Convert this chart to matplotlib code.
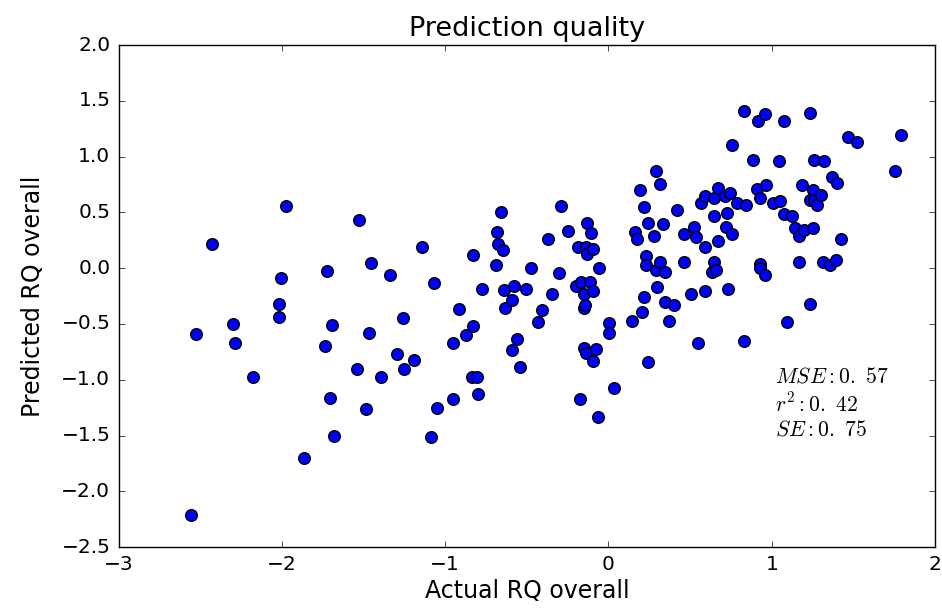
import matplotlib
matplotlib.use('Agg')
import matplotlib.pyplot as plt

actual = [-2.555, -2.524, -2.427, -2.298, -2.288, -2.18, -2.016, -2.016, -2.008, -1.975,
          -1.867, -1.736, -1.726, -1.703, -1.693, -1.683, -1.542, -1.53, -1.487, -1.469,
          -1.456, -1.391, -1.338, -1.295, -1.26, -1.25, -1.193, -1.144, -1.09, -1.068,
          -1.05, -0.951, -0.95, -0.916, -0.873, -0.83, -0.831, -0.833, -0.805, -0.797,
          -0.774, -0.69, -0.68, -0.678, -0.66, -0.645, -0.639, -0.635, -0.594, -0.592,
          -0.576, -0.56, -0.539, -0.507, -0.476, -0.433, -0.409, -0.368, -0.345, -0.302,
          -0.292, -0.251, -0.196, -0.186, -0.172, -0.17, -0.151, -0.151, -0.145, -0.149,
          -0.139, -0.135, -0.131, -0.129, -0.116, -0.108, -0.094, -0.094, -0.094, -0.078,
          -0.063, -0.06, 0.002, 0.002, 0.032,
          0.141, 0.163, 0.172, 0.192, 0.206, 0.216, 0.219, 0.227, 0.227, 0.239,
          0.239, 0.28, 0.288, 0.29, 0.298, 0.314, 0.314, 0.333, 0.345, 0.349,
          0.368, 0.4, 0.419, 0.461, 0.464, 0.507, 0.521, 0.539, 0.547, 0.568,
          0.592, 0.594, 0.594, 0.631, 0.645, 0.648, 0.648, 0.656, 0.668, 0.67,
          0.711, 0.721, 0.727, 0.731, 0.746, 0.756, 0.758, 0.786, 0.829, 0.829,
          0.841, 0.884, 0.911, 0.917, 0.927, 0.931, 0.931, 0.96, 0.958, 0.966,
          1.007, 1.046, 1.048, 1.078, 1.078, 1.091, 1.126, 1.14, 1.166, 1.166,
          1.183, 1.195, 1.232, 1.232, 1.233, 1.252, 1.252, 1.258, 1.26, 1.275,
          1.299, 1.315, 1.317, 1.356, 1.366, 1.395, 1.397, 1.422, 1.466, 1.521,
          1.757, 1.791]

predicted = [-2.21, -0.594, 0.218, -0.496, -0.669, -0.974, -0.32, -0.436, -0.087, 0.556,
             -1.70, -0.696, -0.027, -1.162, -0.508, -1.5, -0.902, 0.436, -1.263, -0.58,
             0.045, -0.974, -0.057, -0.768, -0.448, -0.902, -0.827, 0.188, -1.51, -0.131,
             -1.25, -1.177, -0.669, -0.362, -0.597, -0.52, 0.116, -0.974, -0.974, -1.13,
             -0.188, 0.03, 0.32, 0.221, 0.508, 0.161, -0.2, -0.361, -0.729, -0.287,
             -0.161, -0.639, -0.884, -0.188, 0.0, -0.481, -0.376, 0.26, -0.233, -0.042,
             0.556, 0.334, -0.161, 0.191, -1.177, -0.123, -0.714, -0.361, -0.332, -0.233,
             0.191, -0.764, 0.131, 0.409, -0.123, 0.311, 0.176, -0.203, -0.833, -0.723,
             -1.338, 0.0, -0.49, -0.585, -1.07,
             -0.475, 0.325, 0.266, 0.702, -0.391, -0.26, 0.544, 0.11, 0.033, 0.409,
             -0.845, 0.29, -0.018, 0.872, -0.173, 0.755, 0.057, 0.394, -0.302, -0.033,
             -0.475, -0.332, 0.526, 0.305, 0.057, -0.233, 0.37, 0.278, -0.669, 0.58,
             0.191, 0.645, -0.203, -0.033, 0.466, 0.625, 0.051, -0.018, 0.248, 0.72,
             0.645, 0.37, 0.496, -0.188, 0.675, 1.108, 0.305, 0.58, 1.413, -0.651,
             0.565, 0.974, 0.714, 1.32, 0.036, 0.625, 0.0, 1.386, -0.063, 0.744,
             0.58, 0.959, 0.6, 1.32, 0.49, -0.481, 0.466, 0.356, 0.29, 0.057,
             0.744, 0.34, 1.395, -0.32, 0.609, 0.705, 0.364, 0.609, 0.974, 0.565,
             0.654, 0.057, 0.959, 0.027, 0.813, 0.072, 0.768, 0.26, 1.177, 1.132,
             0.872, 1.195]

stats = [r'$MSE:0.\ 57$', r'$r^2:0.\ 42$', r'$SE:0.\ 75$']

plt.style.use('classic')
fig = plt.figure(figsize=(9.42, 6.14), dpi=100, facecolor='white')
ax = fig.add_axes([0.126, 0.109, 0.8666, 0.8176])
ax.scatter(actual, predicted, s=70, c='blue', edgecolors='black', linewidths=1)
ax.set_xlim(-3, 2)
ax.set_ylim(-2.5, 2.0)
ax.set_title('Prediction quality', fontsize=19.5, y=1.005)
ax.set_xlabel('Actual RQ overall', fontsize=17, labelpad=3)
ax.set_ylabel('Predicted RQ overall', fontsize=17, labelpad=12)
ax.tick_params(labelsize=14.5, pad=6)
ax.text(1.02, -0.88, '\n'.join(stats), fontsize=15.5, va='top', linespacing=1.25)
fig.savefig('out.png', dpi=100, facecolor='white')
